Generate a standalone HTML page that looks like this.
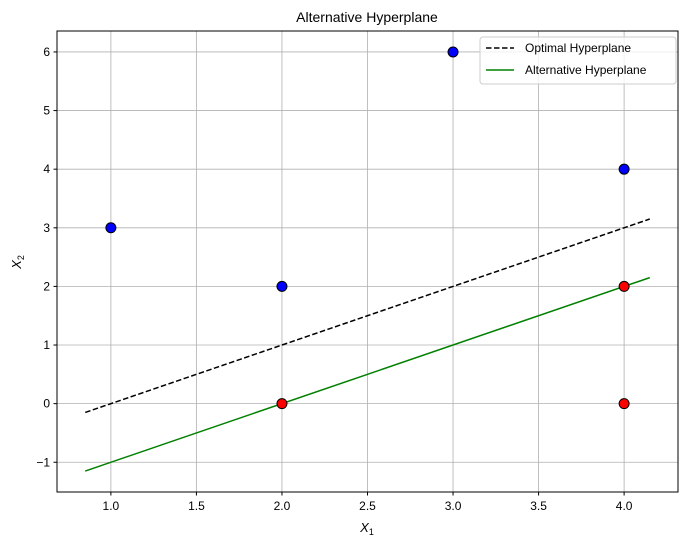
<!DOCTYPE html>
<html><head><meta charset="utf-8"><style>
body{margin:0;background:#fff;font-family:"Liberation Sans",Arial,sans-serif}
svg text{font-family:"Liberation Sans",Arial,sans-serif}
</style></head><body>
<svg id="chart" width="687" height="548" xmlns="http://www.w3.org/2000/svg">
<text x="367" y="22" text-anchor="middle" font-size="14">Alternative Hyperplane</text>
<g id="grid"></g>
<g id="lines"></g>
<g id="points"></g>
<rect x="57" y="31" width="621" height="461" fill="none" stroke="#000" stroke-width="1"/>
<g id="ticks"></g>
<text x="367" y="532" text-anchor="middle" font-size="13" font-style="italic">X<tspan font-size="9" dy="3" font-style="normal">1</tspan></text>
<text x="0" y="0" transform="translate(21,262) rotate(-90)" text-anchor="middle" font-size="13" font-style="italic">X<tspan font-size="9" dy="3" font-style="normal">2</tspan></text>
<g>
<rect x="480" y="37" width="196" height="47" rx="3" fill="#fff" fill-opacity="0.8" stroke="#ccc"/>
<line x1="486" y1="48" x2="514" y2="48" stroke="#000" stroke-width="1.5" stroke-dasharray="5.5,2.5"/>
<text x="525" y="52" font-size="12">Optimal Hyperplane</text>
<line x1="486" y1="70" x2="514" y2="70" stroke="#008000" stroke-width="1.5"/>
<text x="525" y="74" font-size="12">Alternative Hyperplane</text>
</g>
</svg>
<script>
const xTicks=[1.0,1.5,2.0,2.5,3.0,3.5,4.0];
const xTickLabels=["1.0","1.5","2.0","2.5","3.0","3.5","4.0"];
const yTicks=[-1,0,1,2,3,4,5,6];
const yTickLabels=["\u22121","0","1","2","3","4","5","6"];
const pointsX=[1,2,3,4,2,4,4];
const pointsY=[3,2,6,4,0,2,0];
const pointClass=["blue","blue","blue","blue","red","red","red"];
const lineXRange=[0.85,4.15];
const optimalIntercept=-1, optimalSlope=1;
const altIntercept=-2, altSlope=1;
const X0=57,X1=678,Y0=31,Y1=492,xmin=0.685,xmax=4.315,ymin=-1.5075,ymax=6.3575;
const sx=v=>X0+(v-xmin)/(xmax-xmin)*(X1-X0);
const sy=v=>Y1-(v-ymin)/(ymax-ymin)*(Y1-Y0);
const NS="http://www.w3.org/2000/svg";
function mk(tag,attrs,parent){const e=document.createElementNS(NS,tag);for(const k in attrs)e.setAttribute(k,attrs[k]);parent.appendChild(e);return e;}
const grid=document.getElementById('grid'),ticks=document.getElementById('ticks'),lines=document.getElementById('lines'),pts=document.getElementById('points');
xTicks.forEach((t,i)=>{const x=sx(t);
 const g=mk('line',{x1:x,x2:x,y1:Y0,y2:Y1,stroke:'#b0b0b0','stroke-width':0.8},grid);
 
 
 const tk=mk('line',{x1:x,x2:x,y1:Y1,y2:Y1+3.5,stroke:'#000'},ticks);
 
 
 const tx=mk('text',{x:x,y:Y1+18,'text-anchor':'middle','font-size':12},ticks);tx.textContent=xTickLabels[i];
 
 
});
yTicks.forEach((t,i)=>{const y=sy(t);
 const g=mk('line',{x1:X0,x2:X1,y1:y,y2:y,stroke:'#b0b0b0','stroke-width':0.8},grid);
 
 
 const tk=mk('line',{x1:X0-3.5,x2:X0,y1:y,y2:y,stroke:'#000'},ticks);
 
 
 const tx=mk('text',{x:X0-7,y:y+4,'text-anchor':'end','font-size':12},ticks);tx.textContent=yTickLabels[i];
 
 
});
const a=lineXRange[0],b=lineXRange[1];
const l1=mk('line',{x1:sx(a),y1:sy(optimalIntercept+optimalSlope*a),x2:sx(b),y2:sy(optimalIntercept+optimalSlope*b),stroke:'#000','stroke-width':1.5,'stroke-dasharray':'5.5,2.5'},lines);


const l2=mk('line',{x1:sx(a),y1:sy(altIntercept+altSlope*a),x2:sx(b),y2:sy(altIntercept+altSlope*b),stroke:'#008000','stroke-width':1.5},lines);


pointsX.forEach((v,i)=>{
 const c=mk('circle',{cx:sx(v),cy:sy(pointsY[i]),r:5,fill:pointClass[i]==='blue'?'#0000ff':'#ff0000',stroke:'#000','stroke-width':1},pts);
 
 
});
</script>
</body></html>
